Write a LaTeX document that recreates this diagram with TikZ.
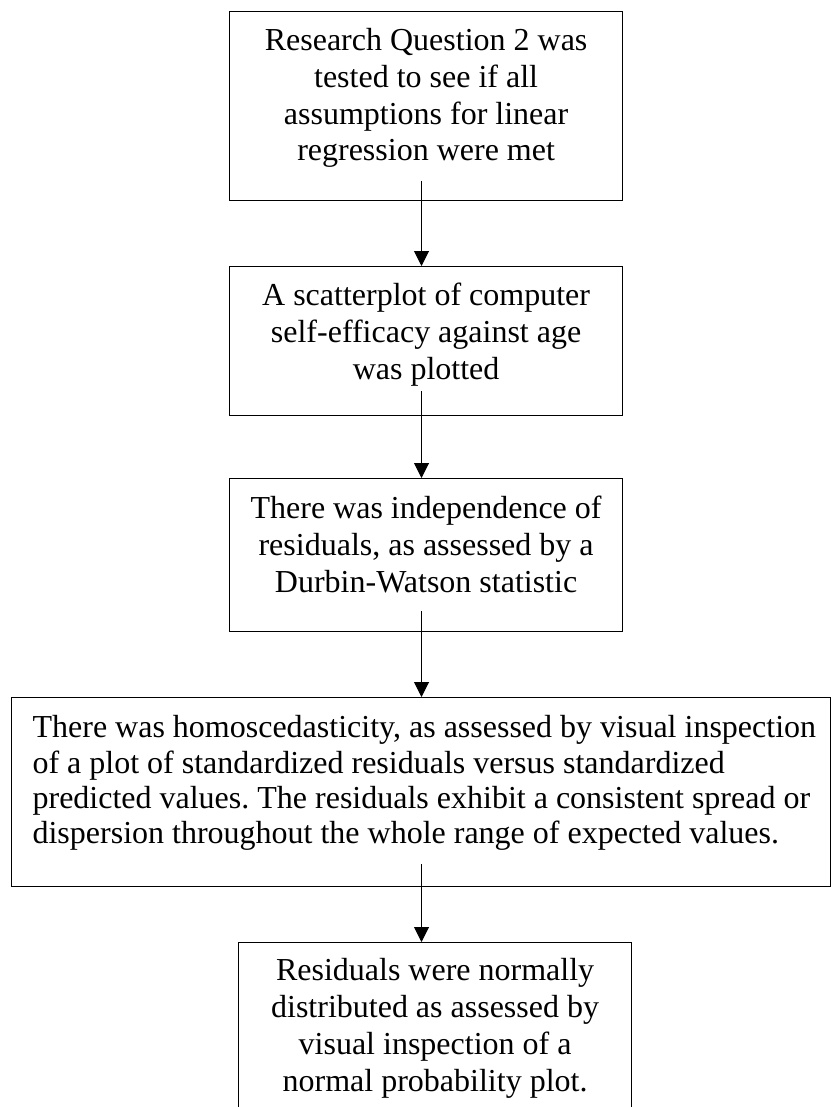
\documentclass[tikz,border=0pt]{standalone}
\usepackage{fontspec}
\setmainfont{Liberation Serif}
\usetikzlibrary{arrows.meta}
\frenchspacing
\newcommand\ctrline[1]{\hbox to \hsize{\hfil#1\hfil}}
\newcommand\lftline[1]{\hbox to \hsize{\kern21pt #1\hfil}}
\newcommand\boxcontent[4]{\vbox to #2{\hsize=#1\relax\kern#3\relax\hbox{}#4\vss}}
\tikzset{
  box/.style={draw, line width=1.2pt, inner sep=0pt, anchor=north west,
    font=\fontsize{32}{36.8}\selectfont},
  arr/.style={line width=1pt, -{Triangle[length=15pt,width=15pt]}}
}
\begin{document}
\begin{tikzpicture}
\clip (0pt,0pt) rectangle (832pt,-1107pt);
\fill[white] (0pt,0pt) rectangle (832pt,-1107pt);
\node[box] (b1) at (229pt,-11pt) {\boxcontent{393pt}{189pt}{2.2pt}{%
  \ctrline{Research Question 2 was}%
  \ctrline{tested to see if all}%
  \ctrline{assumptions for linear}%
  \ctrline{regression were met}}};
\node[box] (b2) at (229pt,-266pt) {\boxcontent{393pt}{149pt}{2.2pt}{%
  \ctrline{A scatterplot of computer}%
  \ctrline{self-efficacy against age}%
  \ctrline{was plotted}}};
\node[box] (b3) at (229pt,-478pt) {\boxcontent{393pt}{153pt}{3.2pt}{%
  \ctrline{There was independence of}%
  \ctrline{residuals, as assessed by a}%
  \ctrline{Durbin-Watson statistic}}};
\node[box, font=\fontsize{32}{35.4}\selectfont] (b4) at (11pt,-697pt) {\boxcontent{819pt}{189pt}{4.6pt}{%
  \lftline{There was homoscedasticity, as assessed by visual inspection}%
  \lftline{of a plot of standardized residuals versus standardized}%
  \lftline{predicted values. The residuals exhibit a consistent spread or}%
  \lftline{dispersion throughout the whole range of expected values.}}};
\node[box] (b5) at (238pt,-942pt) {\boxcontent{393pt}{200pt}{1.2pt}{%
  \ctrline{Residuals were normally}%
  \ctrline{distributed as assessed by}%
  \ctrline{visual inspection of a}%
  \ctrline{normal probability plot.}}};
\coordinate (a1) at (421.5pt,-181pt);
\coordinate (a2) at (421.5pt,-391pt);
\coordinate (a3) at (421.5pt,-611pt);
\coordinate (a4) at (421.5pt,-864pt);
\draw[arr] (a1) -- (a1 |- b2.north);
\draw[arr] (a2) -- (a2 |- b3.north);
\draw[arr] (a3) -- (a3 |- b4.north);
\draw[arr] (a4) -- (a4 |- b5.north);
\end{tikzpicture}
\end{document}
